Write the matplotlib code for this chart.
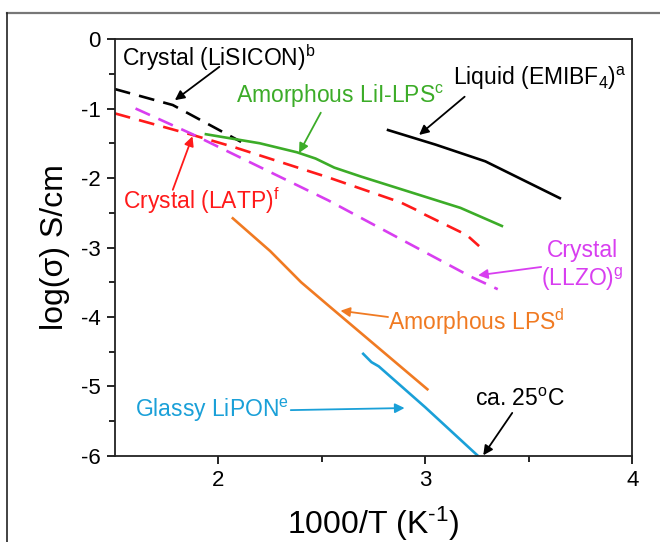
import numpy as np
import matplotlib
matplotlib.use("Agg")
import matplotlib.pyplot as plt
from matplotlib.lines import Line2D

plt.rcParams['font.family'] = ['Liberation Sans', 'DejaVu Sans']
plt.rcParams['mathtext.fontset'] = 'custom'
plt.rcParams['mathtext.rm'] = 'Liberation Sans'
plt.rcParams['mathtext.it'] = 'Liberation Sans:italic'
plt.rcParams['axes.unicode_minus'] = False

# curves: x = 1000/T, y = log(sigma)
lisicon_x = [1.50, 1.78, 2.11]
lisicon_y = [-0.72, -0.95, -1.48]

latp_x = [1.50, 1.875, 2.07, 2.53, 2.88, 2.95, 3.00, 3.20, 3.26]
latp_y = [-1.07, -1.38, -1.55, -1.99, -2.35, -2.45, -2.53, -2.82, -2.98]

llzo_x = [1.60, 1.875, 2.53, 3.22, 3.35]
llzo_y = [-1.00, -1.37, -2.32, -3.42, -3.60]

lii_lps_x = [1.94, 2.20, 2.38, 2.47, 2.56, 2.69, 3.17, 3.37]
lii_lps_y = [-1.37, -1.50, -1.63, -1.72, -1.85, -1.98, -2.43, -2.69]

emibf4_x = [2.82, 3.05, 3.29, 3.65]
emibf4_y = [-1.31, -1.52, -1.76, -2.29]

lps_x = [2.07, 2.25, 2.40, 2.53, 3.01]
lps_y = [-2.58, -3.05, -3.50, -3.83, -5.04]

lipon_x = [2.70, 2.74, 2.775, 3.00, 3.255]
lipon_y = [-4.53, -4.65, -4.71, -5.30, -6.00]

green = '#3cac28'
red = '#ff1a1a'
magenta = '#d83ef0'
orange = '#f07a22'
blue = '#1aa0d8'

fig = plt.figure(figsize=(6.6, 5.42), dpi=100)
ax = fig.add_axes([0.174, 0.1587, 0.784, 0.7693])

dash = (0, (6, 3.5))
lw = 1.9
ax.plot(lisicon_x, lisicon_y, color='black', lw=lw, ls=dash)
ax.plot(latp_x, latp_y, color=red, lw=lw, ls=dash)
ax.plot(llzo_x, llzo_y, color=magenta, lw=lw, ls=dash)
ax.plot(lii_lps_x, lii_lps_y, color=green, lw=lw)
ax.plot(emibf4_x, emibf4_y, color='black', lw=lw)
ax.plot(lps_x, lps_y, color=orange, lw=lw)
ax.plot(lipon_x, lipon_y, color=blue, lw=lw)

fs = 16.5


# label text plus arrow from (x0,y0) to (x1,y1)
def note(text, tx, ty, color, x0, y0, x1, y1, **kw):
    ax.text(tx, ty, text, color=color, fontsize=fs, va='center', **kw)
    ax.annotate('', xy=(x1, y1), xytext=(x0, y0),
                arrowprops=dict(arrowstyle='-|>', color=color, lw=1.3,
                                mutation_scale=14, shrinkA=0, shrinkB=0))


note('Crystal (LiSICON)$^\\mathrm{b}$', 1.535, -0.27, 'black',
     2.005, -0.40, 1.79, -0.88)
note('Amorphous LiI-LPS$^\\mathrm{c}$', 2.087, -0.82, green,
     2.495, -1.06, 2.39, -1.64)
note('Liquid (EMIBF$_4$)$^\\mathrm{a}$', 3.135, -0.56, 'black',
     3.19, -0.83, 2.97, -1.38)
note('Crystal (LATP)$^\\mathrm{f}$', 1.54, -2.32, red,
     1.78, -2.17, 1.875, -1.40)
note('Crystal\n(LLZO)$^\\mathrm{g}$', 3.76, -3.27, magenta,
     3.56, -3.28, 3.255, -3.40, ha='center', linespacing=1.2)
note('Amorphous LPS$^\\mathrm{d}$', 2.82, -4.07, orange,
     2.82, -4.00, 2.59, -3.91)
note('Glassy LiPON$^\\mathrm{e}$', 1.595, -5.34, blue,
     2.35, -5.34, 2.90, -5.31)
note('ca. 25$^\\mathrm{o}$C', 3.24, -5.19, 'black',
     3.42, -5.38, 3.28, -5.99)

ax.set_xlim(1.5, 4)
ax.set_ylim(-6, 0)
ax.set_xticks([2, 3, 4])
ax.set_xticks([2.5, 3.5], minor=True)
ax.set_yticks([0, -1, -2, -3, -4, -5, -6])
ax.set_yticks(np.arange(-5.5, 0, 1.0), minor=True)
ax.tick_params(direction='out', length=6, width=1.2, labelsize=16, pad=4)
ax.tick_params(which='minor', direction='out', length=4, width=1.2)
for s in ax.spines.values():
    s.set_linewidth(1.3)
    s.set_color('#222222')

ax.set_xlabel('1000/T (K$^{\\text{-}1}$)', fontsize=23, labelpad=10)
ax.set_ylabel('log(σ) S/cm', fontsize=23, labelpad=8)

# outer frame, only the top and left edges fall inside the picture
fig.add_artist(Line2D([7 / 660, 1], [1 - 13 / 542] * 2, color='#777777',
                      lw=1.6, transform=fig.transFigure))
fig.add_artist(Line2D([7 / 660] * 2, [0, 1 - 13 / 542], color='#222222',
                      lw=1.2, transform=fig.transFigure))

fig.savefig('out.png', dpi=100)
